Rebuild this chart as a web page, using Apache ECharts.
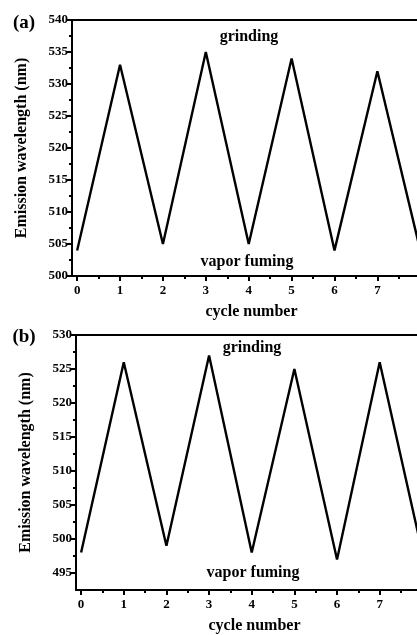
<!DOCTYPE html>
<html>
<head>
<meta charset="utf-8">
<script src="https://cdn.jsdelivr.net/npm/echarts@6/dist/echarts.min.js"></script>
<style>
  html, body { margin: 0; padding: 0; background: #fff; overflow: hidden; }
  #chart { width: 470px; height: 635px; }
</style>
</head>
<body>
<div id="chart"></div>
<script>
// Emission wavelength over repeated grinding / vapor-fuming cycles
const cycles = [0, 1, 2, 3, 4, 5, 6, 7, 8];
const wavelengthA = [504, 533, 505, 535, 505, 534, 504, 532, 504];
const wavelengthB = [498, 526, 499, 527, 498, 525, 497, 526, 498];

const xMajorTicks = [0, 1, 2, 3, 4, 5, 6, 7, 8];
const xMinorTicks = [0.5, 1.5, 2.5, 3.5, 4.5, 5.5, 6.5, 7.5];
const yMajorTicksA = [500, 505, 510, 515, 520, 525, 530, 535, 540];
const yMinorTicksA = [502.5, 507.5, 512.5, 517.5, 522.5, 527.5, 532.5, 537.5];
const yMajorTicksB = [495, 500, 505, 510, 515, 520, 525, 530];
const yMinorTicksB = [497.5, 502.5, 507.5, 512.5, 517.5, 522.5, 527.5];

const FONT = "'Liberation Serif', 'Times New Roman', serif";
const BLACK = '#000';

function pairs(xs, ys) { return xs.map((x, i) => [x, ys[i]]); }

function xAxes(grid) {
  return [
    { // labelled bottom axis
      type: 'value', gridIndex: grid, position: 'bottom', min: -0.12, max: 8.25,
      name: 'cycle number', nameLocation: 'middle', nameGap: 28,
      nameTextStyle: { fontFamily: FONT, fontWeight: 'bold', fontSize: 16, color: BLACK },
      axisLine: { show: true, onZero: false, lineStyle: { color: BLACK, width: 2 } },
      axisTick: { show: true, customValues: xMajorTicks, length: 5, lineStyle: { color: BLACK, width: 2 } },
      axisLabel: { customValues: xMajorTicks, margin: 8, fontFamily: FONT, fontWeight: 'bold', fontSize: 13, color: BLACK },
      splitLine: { show: false }
    },
    { // half-step ticks
      type: 'value', gridIndex: grid, position: 'bottom', min: -0.12, max: 8.25,
      axisLine: { show: false, onZero: false },
      axisTick: { show: true, customValues: xMinorTicks, length: 3, lineStyle: { color: BLACK, width: 2 } },
      axisLabel: { show: false }, splitLine: { show: false }
    },
    { // top frame
      type: 'value', gridIndex: grid, position: 'top', min: -0.12, max: 8.25,
      axisLine: { show: true, onZero: false, lineStyle: { color: BLACK, width: 2 } },
      axisTick: { show: false }, axisLabel: { show: false }, splitLine: { show: false }
    }
  ];
}

function yAxes(grid, min, max, majors, minors) {
  return [
    {
      type: 'value', gridIndex: grid, position: 'left', min: min, max: max,
      name: 'Emission wavelength (nm)', nameLocation: 'middle', nameGap: 42,
      nameTextStyle: { fontFamily: FONT, fontWeight: 'bold', fontSize: 16, color: BLACK },
      axisLine: { show: true, onZero: false, lineStyle: { color: BLACK, width: 2 } },
      axisTick: { show: true, customValues: majors, length: 5, lineStyle: { color: BLACK, width: 2 } },
      axisLabel: { customValues: majors, margin: 4, fontFamily: FONT, fontWeight: 'bold', fontSize: 13, color: BLACK },
      splitLine: { show: false }
    },
    {
      type: 'value', gridIndex: grid, position: 'left', min: min, max: max,
      axisLine: { show: false, onZero: false },
      axisTick: { show: true, customValues: minors, length: 3, lineStyle: { color: BLACK, width: 2 } },
      axisLabel: { show: false }, splitLine: { show: false }
    }
  ];
}

function textEl(str, x, y, size) {
  return {
    type: 'text', x: x, y: y,
    style: { text: str, fontFamily: FONT, fontWeight: 'bold', fontSize: size, fill: BLACK,
             align: 'center', verticalAlign: 'middle' }
  };
}

const chart = echarts.init(document.getElementById('chart'), null, { renderer: 'canvas' });
chart.setOption({
  backgroundColor: '#fff',
  animation: false,
  grid: [
    { left: 72, top: 20, width: 359, height: 256 },
    { left: 76, top: 335, width: 357, height: 256 }
  ],
  xAxis: [...xAxes(0), ...xAxes(1)],
  yAxis: [
    ...yAxes(0, 500, 540, yMajorTicksA, yMinorTicksA),
    ...yAxes(1, 492.5, 530, yMajorTicksB, yMinorTicksB)
  ],
  series: [
    {
      type: 'line', xAxisIndex: 0, yAxisIndex: 0, data: pairs(cycles, wavelengthA),
      showSymbol: false, lineStyle: { color: BLACK, width: 2.4 }, clip: true
    },
    {
      type: 'line', xAxisIndex: 3, yAxisIndex: 2, data: pairs(cycles, wavelengthB),
      showSymbol: false, lineStyle: { color: BLACK, width: 2.4 }, clip: true
    }
  ],
  graphic: [
    textEl('(a)', 24, 23, 19),
    textEl('(b)', 24, 337, 19),
    textEl('grinding', 249, 37, 16),
    textEl('vapor fuming', 247, 262, 16),
    textEl('grinding', 252, 348, 16),
    textEl('vapor fuming', 253, 573, 16)
  ]
});
</script>
</body>
</html>
